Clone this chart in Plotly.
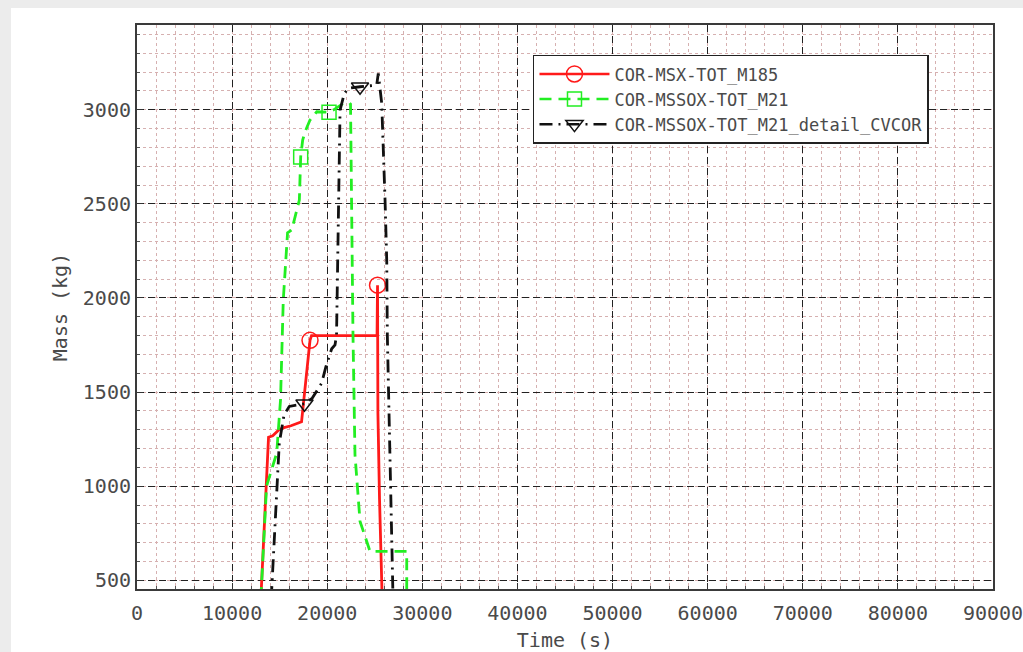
import plotly.graph_objects as go

# ---- data ----
red_t = [13020, 13830, 14270, 14930, 15460, 16190, 17300, 18190, 18350, 25240, 25290, 25330, 25500, 25780]
red_m = [400, 1260, 1268, 1300, 1311, 1321, 1342, 1775, 1800, 1800, 2068, 1390, 930, 400]
red_mk_t = [18190, 25290]
red_mk_m = [1775, 2068]

green_t = [13020, 13620, 14690, 15090, 15380, 15830, 16270, 17070, 17210, 17420, 17670, 18190, 18900,
           20190, 20640, 21690, 22320, 22450, 22710, 22920, 23450, 24080, 24500, 28360, 28360]
green_m = [400, 1000, 1176, 1459, 1990, 2346, 2361, 2520, 2749, 2839, 2883, 2945, 2989,
           2987, 2998, 3034, 3037, 3030, 1804, 1167, 813, 716, 654, 654, 400]
green_mk_t = [17210, 20190]
green_mk_m = [2749, 2987]

black_t = [14110, 14960, 15460, 16010, 17610, 18400, 19420, 19870, 20470, 20820, 20980, 21170, 21270,
           21350, 21800, 22220, 23450, 25200, 25370, 25730, 26080, 26260, 26320, 26600, 26890, 26920]
black_m = [400, 1229, 1379, 1424, 1438, 1466, 1548, 1636, 1730, 1751, 1804, 2520, 2945,
           2998, 3087, 3114, 3122, 3131, 3193, 3034, 2520, 2193, 1804, 1140, 461, 400]
black_mk_t = [17610, 23450]
black_mk_m = [1438, 3122]

names = ["COR-MSX-TOT_M185", "COR-MSSOX-TOT_M21", "COR-MSSOX-TOT_M21_detail_CVCOR"]
x_ticks = [0, 10000, 20000, 30000, 40000, 50000, 60000, 70000, 80000, 90000]
y_ticks = [500, 1000, 1500, 2000, 2500, 3000]

FONT = "DejaVu Sans Mono"
TXT = "#4a4a4a"

styles = [
    dict(color="#ff1a1a", dash="solid", symbol="circle-open", size=16),
    dict(color="#22ee22", dash="12px,7px", symbol="square-open", size=14),
    dict(color="#111111", dash="13px,6px,2px,6px", symbol="triangle-down-open", size=15),
]
series = [
    (red_t, red_m, red_mk_t, red_mk_m),
    (green_t, green_m, green_mk_t, green_mk_m),
    (black_t, black_m, black_mk_t, black_mk_m),
]

fig = go.Figure()

# legend entries
for name, st in zip(names, styles):
    fig.add_trace(go.Scatter(
        x=[None], y=[None], mode="lines+markers", name=name,
        line=dict(color=st["color"], width=2.5, dash=st["dash"]),
        marker=dict(symbol=st["symbol"], size=st["size"], color=st["color"], line=dict(width=1.5, color=st["color"])),
    ))

# data lines and markers
for (t, m, mt, mm), st in zip(series, styles):
    fig.add_trace(go.Scatter(
        x=t, y=m, mode="lines", showlegend=False,
        line=dict(color=st["color"], width=2.8, dash=st["dash"]),
    ))
    fig.add_trace(go.Scatter(
        x=mt, y=mm, mode="markers", showlegend=False,
        marker=dict(symbol=st["symbol"], size=st["size"], color=st["color"], line=dict(width=1.5, color=st["color"])),
    ))

axis_common = dict(
    showline=True, linecolor="#3a3a3a", linewidth=2, mirror=True,
    ticks="inside", ticklen=6, tickcolor="#333333",
    showgrid=True, gridcolor="#222222", gridwidth=1, griddash="7px,4px",
    zeroline=False, automargin=False,
    tickfont=dict(family=FONT, size=20, color=TXT),
    ticklabeloverflow="allow",
)

fig.update_xaxes(
    range=[0, 90001], tickmode="array", tickvals=x_ticks, ticktext=[str(v) for v in x_ticks],
    minor=dict(dtick=2000, tick0=0, showgrid=True, gridcolor="#d6b0b0", griddash="dot", gridwidth=1,
               ticks="inside", ticklen=3, tickcolor="#555555"),
    ticklabelstandoff=5,
    title=dict(text="Time (s)", font=dict(family=FONT, size=20, color=TXT), standoff=16),
    **axis_common,
)
fig.update_yaxes(
    range=[454, 3450], tickmode="array", tickvals=y_ticks, ticktext=[str(v) for v in y_ticks],
    minor=dict(dtick=100, tick0=0, showgrid=True, gridcolor="#d6b0b0", griddash="dot", gridwidth=1,
               ticks="inside", ticklen=3, tickcolor="#555555"),
    title=dict(text="Mass (kg)", font=dict(family=FONT, size=20, color=TXT), standoff=10),
    **axis_common,
)

fig.add_shape(type="rect", xref="paper", yref="paper", x0=-0.1472, x1=1.2, y0=-0.3, y1=1.0301,
              fillcolor="white", line=dict(width=0), layer="below")

fig.update_layout(
    width=1023, height=652,
    margin=dict(l=137, r=30, t=25, b=63),
    paper_bgcolor="#ececec", plot_bgcolor="white",
    legend=dict(
        x=0.4626, y=0.947, xanchor="left", yanchor="top",
        bgcolor="white", bordercolor="#222222", borderwidth=1.5,
        font=dict(family=FONT, size=17, color=TXT),
        itemwidth=70, tracegroupgap=0,
    ),
    showlegend=True,
)

fig.write_html("out.html")
